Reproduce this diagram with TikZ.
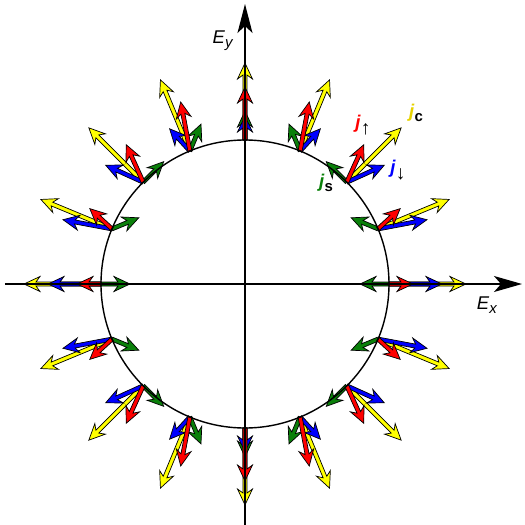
\documentclass[tikz,border=0pt]{standalone}
\usepackage{fontspec}
\setmainfont{Liberation Sans}
\usetikzlibrary{arrows.meta,calc}
\definecolor{JUp}{HTML}{FF0000}
\definecolor{JDown}{HTML}{0000FF}
\definecolor{JCharge}{HTML}{FFFF00}
\definecolor{JSpin}{HTML}{0A800A}
\definecolor{JChargeText}{HTML}{E6D200}

% one current vector: colour, base point, x and y parts (px)
\newcommand{\jvec}[4]{%
  \pgfmathsetmacro{\jlen}{veclen(#3,#4)}%
  \pgfmathsetmacro{\jang}{atan2(#4,#3)}%
  \begin{scope}[shift={#2},rotate=\jang]
    \filldraw[fill=#1,draw=black,line width=0.4pt,line join=miter]
      (0,-2) -- (\jlen-12,-2) -- (\jlen-16,-7.5) -- (\jlen,0)
      -- (\jlen-16,7.5) -- (\jlen-12,2) -- (0,2) -- cycle;
  \end{scope}}
\newcommand{\jsub}[1]{\raisebox{-0.45ex}{\fontsize{8.5}{10}\selectfont #1}}
\newcommand{\jspin}[1]{\raisebox{-0.6ex}{\fontsize{11}{12}\selectfont #1}}

\begin{document}
\begin{tikzpicture}[x=0.02cm,y=0.02cm,every node/.style={font=\fontsize{10.5}{12}\selectfont,inner sep=0pt}]
      \useasboundingbox (-245,-241) rectangle (280,284);

      % currents at 16 field directions
      \foreach \ang in {0,22.5,...,337.5}{
        \pgfmathsetmacro{\ex}{cos(\ang)}
        \pgfmathsetmacro{\ey}{sin(\ang)}
        \coordinate (p) at (\ang:144);
        \jvec{JCharge}{(p)}{77*\ex}{77*\ey}
        \jvec{JSpin}{(p)}{-29*\ex}{29*\ey}
        \jvec{JDown}{(p)}{53*\ex}{24*\ey}
        \jvec{JUp}{(p)}{24*\ex}{53*\ey}
      }

      \coordinate (o) at (0,0);
      \draw[line width=0.8pt] (o) circle[radius=144];
      \coordinate (xl) at (-240,0);
      \coordinate (xr) at (277,0);
      \coordinate (yb) at (0,-241);
      \coordinate (yt) at (0,280);
      \draw[line width=0.8pt,-{Stealth[length=5.6mm,width=3.2mm,inset=1.4mm]}] (xl) -- (xr);
      \draw[line width=0.8pt,-{Stealth[length=5.8mm,width=3mm,inset=1.4mm]}] (yb) -- (yt);

      \node (ex) at (242,-21) {\textit{E}\jsub{\textit{x}}};
      \node (ey) at (-22,243) {\textit{E}\jsub{\textit{y}}};

      \node (jup) at (118,159) {\textcolor{JUp}{\textbf{\textit{j}}}\jspin{↑}};
      \node (jc) at (171,171) {\textcolor{JChargeText}{\textbf{\textit{j}}}\jsub{\textbf{c}}};
      \node (jdown) at (153,114) {\textcolor{JDown}{\textbf{\textit{j}}}\jspin{↓}};
      \node (js) at (81,101) {\textcolor{JSpin}{\textbf{\textit{j}}}\jsub{\textbf{s}}};
    \end{tikzpicture}
\end{document}
